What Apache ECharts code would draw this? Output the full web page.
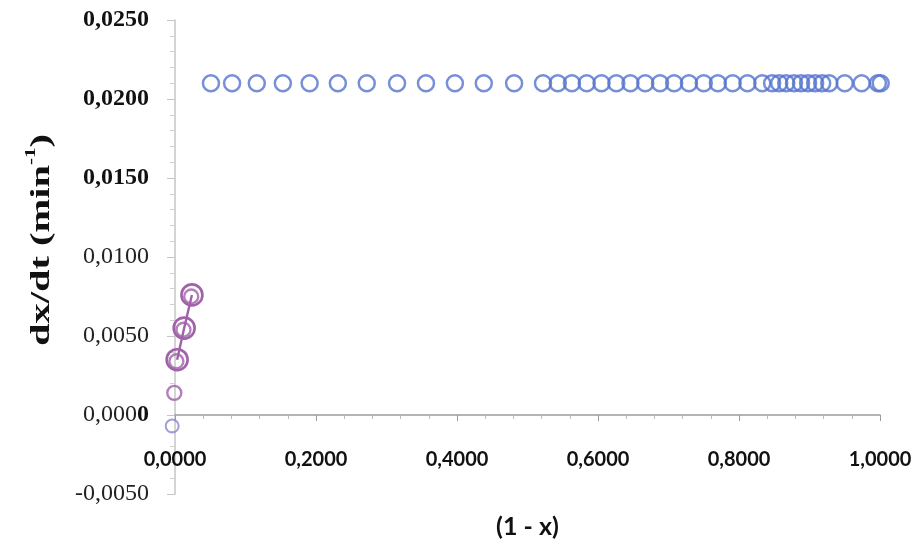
<!DOCTYPE html>
<html>
<head>
<meta charset="utf-8">
<script src="https://cdn.jsdelivr.net/npm/echarts@6/dist/echarts.min.js"></script>
<style>
  html, body { margin: 0; padding: 0; background: #ffffff; }
  #chart { width: 916px; height: 547px; }
</style>
</head>
<body>
<div id="chart"></div>
<script>
// Conversion (1 - x) and rate dx/dt, series 1 (plateau)
const plateauX = [
  0.051, 0.081, 0.116, 0.153, 0.191, 0.231, 0.272, 0.315, 0.356, 0.397,
  0.438, 0.481, 0.522, 0.543, 0.563, 0.584, 0.605, 0.626, 0.646, 0.667,
  0.688, 0.708, 0.729, 0.750, 0.770, 0.791, 0.812, 0.833, 0.847, 0.857,
  0.867, 0.878, 0.888, 0.898, 0.908, 0.918, 0.928, 0.950, 0.974, 0.997,
  1.001
];
const plateauY = [
  0.0210, 0.0210, 0.0210, 0.0210, 0.0210, 0.0210, 0.0210, 0.0210, 0.0210, 0.0210,
  0.0210, 0.0210, 0.0210, 0.0210, 0.0210, 0.0210, 0.0210, 0.0210, 0.0210, 0.0210,
  0.0210, 0.0210, 0.0210, 0.0210, 0.0210, 0.0210, 0.0210, 0.0210, 0.0210, 0.0210,
  0.0210, 0.0210, 0.0210, 0.0210, 0.0210, 0.0210, 0.0210, 0.0210, 0.0210, 0.0210,
  0.0210
];

// Initial-rate point just below the origin
const startX = [-0.004];
const startY = [-0.0007];

// Series 2: rising branch (outer rings joined by a line, inner rings, first point)
const riseOuterX = [0.003, 0.013, 0.024];
const riseOuterY = [0.0035, 0.0055, 0.0076];
const riseInnerX = [0.002, 0.012, 0.023];
const riseInnerY = [0.0034, 0.0054, 0.0075];
const riseFirstX = [-0.001];
const riseFirstY = [0.0014];

// Axis ranges and tick steps
const xRange = [0, 1];
const xStep = 0.2;
const yRange = [-0.005, 0.025];
const yStep = 0.005;
const boldYTicks = [0.015, 0.020, 0.025];

const pairs = (xs, ys) => xs.map((v, i) => [v, ys[i]]);
const comma = v => v.toFixed(4).replace('.', ',');

const BLUE = '#5473cd';
const PURPLE = '#a062a8';

const yLabel = v => {
  const s = comma(v);
  if (boldYTicks.some(t => Math.abs(t - v) < 1e-9)) return '{b|' + s + '}';
  if (Math.abs(v) < 1e-9) return '{r|' + s.slice(0, -1) + '}{b|' + s.slice(-1) + '}';
  return '{r|' + s + '}';
};

const yRich = {
  b: { fontFamily: 'Liberation Serif', fontWeight: 'bold', fontSize: 24, color: '#111' },
  r: { fontFamily: 'Liberation Serif', fontWeight: 'normal', fontSize: 24, color: '#222' }
};

const chart = echarts.init(document.getElementById('chart'));

chart.setOption({
  backgroundColor: '#ffffff',
  animation: false,
  grid: { left: 175, right: 36, top: 20, bottom: 53, containLabel: false, outerBoundsMode: 'none' },
  xAxis: {
    type: 'value',
    min: xRange[0], max: xRange[1], interval: xStep,
    axisLine: { show: true, onZero: true, onZeroAxisIndex: 0, lineStyle: { color: '#9c9c9c', width: 1.5 } },
    axisTick: { show: true, length: 6, inside: false, lineStyle: { color: '#9c9c9c' } },
    minorTick: { show: true, splitNumber: 5, length: 4, lineStyle: { color: '#bdbdbd' } },
    splitLine: { show: false },
    axisLabel: {
      margin: -44,
      formatter: comma,
      fontFamily: 'Lato', fontWeight: 'bold', fontSize: 20, color: '#111'
    },
    name: '(1 - x)',
    nameLocation: 'middle',
    nameGap: 20,
    nameTextStyle: { fontFamily: 'Lato', fontWeight: 'bold', fontSize: 25, color: '#111' }
  },
  yAxis: {
    type: 'value',
    min: yRange[0], max: yRange[1], interval: yStep,
    axisLine: { show: true, onZero: false, lineStyle: { color: '#c6c6c6', width: 1.5 } },
    axisTick: { show: true, length: 8, lineStyle: { color: '#c6c6c6' } },
    minorTick: { show: true, splitNumber: 5, length: 5, lineStyle: { color: '#cfcfcf' } },
    splitLine: { show: false },
    axisLabel: { margin: 26, formatter: yLabel, rich: yRich }
  },
  graphic: [{
    type: 'text',
    x: 40, y: 240,
    rotation: Math.PI / 2,
    scaleX: 1.5,
    style: {
      text: '{a|dx/dt (min}{s|-1}{a|)}',
      align: 'center',
      verticalAlign: 'middle',
      rich: {
        a: { fontFamily: 'Liberation Serif', fontWeight: 'bold', fontSize: 27, lineHeight: 32, fill: '#111', verticalAlign: 'bottom' },
        s: { fontFamily: 'Liberation Serif', fontWeight: 'bold', fontSize: 14, lineHeight: 32, fill: '#111', verticalAlign: 'top', padding: [0, 0, 12, 0] }
      }
    }
  }],
  series: [{
    name: 'plateau',
    type: 'scatter',
    data: pairs(plateauX, plateauY),
    symbol: 'circle',
    symbolSize: 16,
    clip: false,
    itemStyle: { color: 'rgba(0,0,0,0)', borderColor: BLUE, borderWidth: 2.5 }
  }, {
    name: 'start',
    type: 'scatter',
    data: pairs(startX, startY),
    symbol: 'circle',
    symbolSize: 13,
    clip: false,
    itemStyle: { color: 'rgba(0,0,0,0)', borderColor: '#8a86cf', borderWidth: 2 }
  }, {
    name: 'rise',
    type: 'line',
    data: pairs(riseOuterX, riseOuterY),
    symbol: 'circle',
    symbolSize: 21,
    showSymbol: true,
    clip: false,
    lineStyle: { color: PURPLE, width: 2.4 },
    itemStyle: { color: 'rgba(0,0,0,0)', borderColor: PURPLE, borderWidth: 2.6 }
  }, {
    name: 'rise inner',
    type: 'scatter',
    data: pairs(riseInnerX, riseInnerY),
    symbol: 'circle',
    symbolSize: 14,
    clip: false,
    itemStyle: { color: 'rgba(0,0,0,0)', borderColor: PURPLE, borderWidth: 2.4 }
  }, {
    name: 'rise first',
    type: 'scatter',
    data: pairs(riseFirstX, riseFirstY),
    symbol: 'circle',
    symbolSize: 14,
    clip: false,
    itemStyle: { color: 'rgba(0,0,0,0)', borderColor: PURPLE, borderWidth: 2.4 }
  }]
});
</script>
</body>
</html>
